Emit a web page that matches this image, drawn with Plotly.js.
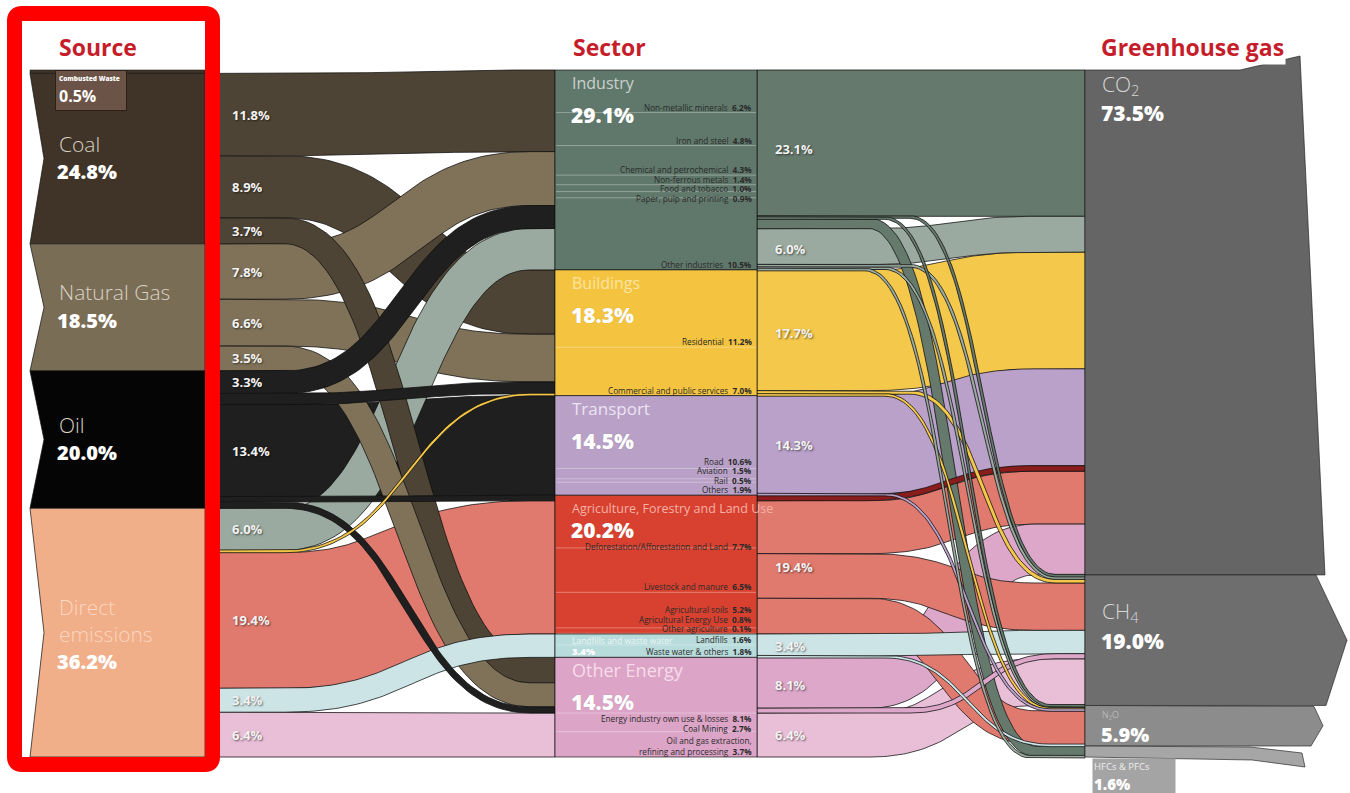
<!DOCTYPE html>
<html>
<head>
<meta charset="utf-8">
<script src="https://cdn.plot.ly/plotly-3.0.1.min.js"></script>
<style>
html,body{margin:0;padding:0;background:#ffffff;}
#chart{width:1350px;height:793px;}
</style>
</head>
<body>
<div id="chart"></div>
<script>
// ---------------- DATA ----------------
const headers = ["Source", "Sector", "Greenhouse gas"];

const sources = ["Combusted Waste", "Coal", "Natural Gas", "Oil", "Direct emissions"];
const sourceValues = [0.5, 24.8, 18.5, 20.0, 36.2];

const sectors = ["Industry", "Buildings", "Transport", "Agriculture, Forestry and Land Use", "Landfills and waste water", "Other Energy"];
const sectorValues = [29.1, 18.3, 14.5, 20.2, 3.4, 14.5];

const gases = ["CO2", "CH4", "N2O", "HFCs & PFCs"];
const gasValues = [73.5, 19.0, 5.9, 1.6];

// source -> sector flows
const linkSource = [1, 1, 1, 2, 2, 2, 3, 3, 3, 3, 3, 4, 4, 4, 4, 4];
const linkTarget = [0, 1, 5, 0, 1, 5, 0, 1, 2, 3, 5, 0, 1, 3, 4, 5];
const linkValue  = [11.8, 8.9, 3.7, 7.8, 6.6, 3.5, 3.3, 1.6, 13.4, 0.8, 0.9, 6.0, 0.3, 19.4, 3.4, 6.4];

// sector outgoing groups (right side of the sector column)
const outGroupSector = [0, 0, 1, 2, 3, 3, 4, 5, 5];
const outGroupValue  = [23.1, 6.0, 17.7, 14.3, 0.8, 19.4, 3.4, 8.1, 6.4];

// group -> gas flows
const flowGroup = [0, 0, 0, 0, 1, 1, 1, 1, 2, 2, 2, 3, 3, 4, 5, 5, 5, 6, 6, 7, 7, 8];
const flowGas   = [0, 1, 2, 3, 0, 1, 2, 3, 0, 1, 2, 0, 2, 0, 0, 1, 2, 1, 2, 0, 1, 1];
const flowValue = [21.3, 0.2, 0.1, 1.5, 5.2, 0.4, 0.3, 0.1, 17.0, 0.5, 0.2, 14.1, 0.2, 0.8, 7.7, 6.5, 5.2, 3.2, 0.2, 7.4, 0.7, 6.4];

// sector sub-categories
const subSector = [0, 0, 0, 0, 0, 0, 0, 1, 1, 2, 2, 2, 2, 3, 3, 3, 3, 3, 4, 4, 5, 5, 5];
const subNames = ["Non-metallic minerals", "Iron and steel", "Chemical and petrochemical", "Non-ferrous metals",
  "Food and tobacco", "Paper, pulp and printing", "Other industries",
  "Residential", "Commercial and public services",
  "Road", "Aviation", "Rail", "Others",
  "Deforestation/Afforestation and Land", "Livestock and manure", "Agricultural soils", "Agricultural Energy Use", "Other agriculture",
  "Landfills", "Waste water & others",
  "Energy industry own use & losses", "Coal Mining", "Oil and gas extraction,<br>refining and processing"];
const subValues = [6.2, 4.8, 4.3, 1.4, 1.0, 0.9, 10.5, 11.2, 7.0, 10.6, 1.5, 0.5, 1.9, 7.7, 6.5, 5.2, 0.8, 0.1, 1.6, 1.8, 8.1, 2.7, 3.7];

// ---------------- STYLE ----------------
const FONT = '"Open Sans", "DejaVu Sans", sans-serif';
const SHADOW = '1px 1px 2px rgba(0,0,0,0.55)';
const sourceColors = ['#3f3427', '#3f3427', '#7a6d55', '#050505', '#f0ae89'];
const sourceBandColors = ['#4e4435', '#4e4435', '#7f7259', '#1f1f1f', null];
const directBandColors = ['#9aaaa0', '#f2c548', '#b8a0c7', '#e07a6f', '#cde4e6', '#e9bfd8'];
const sectorColors = ['#60786b', '#f4c440', '#b8a0c7', '#d8412f', '#b8dbdb', '#dca4c7'];
const groupColors = ['#66796d', '#9aaaa0', '#f4c94b', '#b9a1c9', '#8a1c1c', '#e07a6f', '#cde4e6', '#dca7c9', '#e9bfd8'];
const gasColors = ['#656565', '#6e6e6e', '#8c8c8c', '#a6a6a6'];
const sectorNameColors = ['#c9d1cc', '#fbe3a0', '#ede3f3', '#f6b1a7', '#eaf6f6', '#f6dcea'];
const sectorNameSizes = [16, 16, 17, 12.5, 8.5, 18];

// ---------------- GEOMETRY ----------------
const W = 1350, H = 793;
const TOP = 70, BOT = 757;
const SRC_L = 30, SRC_R = 205, NOTCH = 14;
const SEC_L = 555, SEC_R = 757;
const GAS_L = 1085;
const MINW = 2.6;
const SUB_FONT = 8.2;

function spans(values) {
  const tot = values.reduce((a, b) => a + b, 0), k = (BOT - TOP) / tot;
  let y = TOP;
  return values.map(v => { const s = [y, y + v * k]; y += v * k; return s; });
}
const srcSpan = spans(sourceValues), secSpan = spans(sectorValues), gasSpan = spans(gasValues);

function fill(span, idx, vals) {
  const out = {};
  const tot = idx.reduce((a, i) => a + vals[i], 0);
  if (!tot) return out;
  const k = (span[1] - span[0]) / tot;
  let y = span[0];
  idx.forEach(i => { out[i] = [y, y + vals[i] * k]; y += vals[i] * k; });
  return out;
}
const range = n => [...Array(n).keys()];

// source -> sector positions
const linkSrcY = [], linkTgtY = [];
sources.forEach((_, s) => {
  const idx = range(linkValue.length).filter(i => linkSource[i] === s).sort((a, b) => linkTarget[a] - linkTarget[b]);
  Object.assign(linkSrcY, fill(srcSpan[s], idx, linkValue));
});
sectors.forEach((_, t) => {
  const idx = range(linkValue.length).filter(i => linkTarget[i] === t).sort((a, b) => linkSource[a] - linkSource[b]);
  Object.assign(linkTgtY, fill(secSpan[t], idx, linkValue));
});

// groups within sector
const groupSpan = [];
sectors.forEach((_, s) => {
  const idx = range(outGroupValue.length).filter(g => outGroupSector[g] === s);
  Object.assign(groupSpan, fill(secSpan[s], idx, outGroupValue));
});
const flowSrcY = [], flowTgtY = [];
outGroupValue.forEach((_, g) => {
  const idx = range(flowValue.length).filter(i => flowGroup[i] === g).sort((a, b) => flowGas[a] - flowGas[b]);
  Object.assign(flowSrcY, fill(groupSpan[g], idx, flowValue));
});
gases.forEach((_, gs) => {
  const idx = range(flowValue.length).filter(i => flowGas[i] === gs).sort((a, b) => flowGroup[a] - flowGroup[b]);
  Object.assign(flowTgtY, fill(gasSpan[gs], idx, flowValue));
});

function band(x0, cx0, cx1, x1, s0, s1) {
  const c0 = (s0[0] + s0[1]) / 2, c1 = (s1[0] + s1[1]) / 2;
  const w0 = Math.max(s0[1] - s0[0], MINW), w1 = Math.max(s1[1] - s1[0], MINW);
  const top = [[x0, c0 - w0 / 2]], bot = [[x0, c0 + w0 / 2]];
  const mx = (cx0 + cx1) / 2, N = 60;
  for (let j = 0; j <= N; j++) {
    const t = j / N, u = 1 - t;
    const px = u * u * u * cx0 + 3 * u * u * t * mx + 3 * u * t * t * mx + t * t * t * cx1;
    const py = u * u * u * c0 + 3 * u * u * t * c0 + 3 * u * t * t * c1 + t * t * t * c1;
    const dx = 3 * u * u * (mx - cx0) + 3 * t * t * (cx1 - mx);
    const dy = 6 * u * t * (c1 - c0);
    const len = Math.hypot(dx, dy) || 1;
    const nx = -dy / len, ny = dx / len;
    const sm = t * t * (3 - 2 * t);
    const w = w0 + (w1 - w0) * sm;
    top.push([px - nx * w / 2, py - ny * w / 2]);
    bot.push([px + nx * w / 2, py + ny * w / 2]);
  }
  top.push([x1, c1 - w1 / 2]); bot.push([x1, c1 + w1 / 2]);
  const pts = top.concat(bot.reverse());
  pts.push(pts[0]);
  return pts;
}

const traces = [];
function poly(pts, color, lineColor, lw) {
  traces.push({
    type: 'scatter', mode: 'lines', x: pts.map(p => p[0]), y: pts.map(p => p[1]),
    fill: 'toself', fillcolor: color, line: { color: lineColor, width: lw },
    hoverinfo: 'skip', showlegend: false
  });
}
function seg(x0, x1, y, color, lw) {
  traces.push({ type: 'scatter', mode: 'lines', x: [x0, x1], y: [y, y], line: { color: color, width: lw }, hoverinfo: 'skip', showlegend: false });
}

// source -> sector bands (large first, thin on top)
range(linkValue.length).sort((a, b) => linkValue[b] - linkValue[a]).forEach(i => {
  const s = linkSource[i], t = linkTarget[i];
  const col = s === 4 ? directBandColors[t] : sourceBandColors[s];
  poly(band(SRC_R, 285, 530, SEC_L, linkSrcY[i], linkTgtY[i]), col, 'rgba(15,15,15,0.85)', 0.9);
});

// sector -> gas bands (thin pipes bend at slightly different places)
range(flowValue.length).sort((a, b) => flowValue[b] - flowValue[a]).forEach(i => {
  const shift = flowValue[i] < 1 ? (flowGas[i] === 1 ? 40 : flowGas[i] === 2 ? 15 : -5) : 0;
  poly(band(SEC_R, 870 + shift, 1035 + Math.min(shift, 20), GAS_L, flowSrcY[i], flowTgtY[i]), groupColors[flowGroup[i]], 'rgba(15,15,15,0.85)', 0.9);
});

// source nodes (chevrons)
sources.forEach((_, s) => {
  const [a, b] = srcSpan[s];
  if (s === 0) {
    poly([[SRC_L, a], [SRC_R, a], [SRC_R, b], [SRC_L, b], [SRC_L, a]], sourceColors[s], 'rgba(20,20,20,0.9)', 0.6);
  } else {
    poly([[SRC_L, a], [SRC_R, a], [SRC_R, b], [SRC_L, b], [SRC_L + NOTCH, (a + b) / 2], [SRC_L, a]], sourceColors[s], 'rgba(20,20,20,0.9)', 0.8);
  }
});

// sector blocks
sectors.forEach((_, s) => {
  const [a, b] = secSpan[s];
  poly([[SEC_L, a], [SEC_R, a], [SEC_R, b], [SEC_L, b], [SEC_L, a]], sectorColors[s], 'rgba(20,20,20,0.85)', 0.8);
});

// gas blocks
gases.forEach((_, g) => {
  const [a, b] = gasSpan[g], m = (a + b) / 2;
  let pts;
  if (g === 0) pts = [[GAS_L, a], [1240, a], [1300, a - 14], [1325, b], [GAS_L, b]];
  else if (g === 1) pts = [[GAS_L, a], [1316, a], [1347, m], [1326, b], [GAS_L, b]];
  else if (g === 2) pts = [[GAS_L, a], [1314, a + 1], [1323, m], [1311, b], [GAS_L, b]];
  else pts = [[GAS_L, a], [1250, a + 1], [1302, a + 7], [1305, b + 10], [1252, b + 3], [GAS_L, b]];
  pts.push(pts[0]);
  poly(pts, gasColors[g], 'rgba(30,30,30,0.8)', 0.8);
});

// ---------------- ANNOTATIONS ----------------
const A = [];
function txt(x, y, text, size, color, weight, opts) {
  opts = opts || {};
  const font = { family: FONT, size: size, color: color, weight: weight };
  if (opts.shadow) font.shadow = opts.shadow;
  const a = { x: x, y: y, xref: 'x', yref: 'y', text: text, showarrow: false, xanchor: 'left', yanchor: 'middle', align: 'left', font: font };
  ['xanchor', 'yanchor', 'align', 'bgcolor', 'bordercolor', 'borderwidth', 'borderpad', 'width', 'height'].forEach(k => { if (opts[k] !== undefined) a[k] = opts[k]; });
  A.push(a);
}
const pct = v => v.toFixed(1) + '%';

// headers
txt(57, 47, headers[0], 23, '#c61d2b', 700);
txt(571, 47, headers[1], 23, '#c61d2b', 700);
txt(1099, 47, headers[2], 23, '#c61d2b', 700, { bgcolor: '#ffffff' });

// sector value offsets from block top
const valueOffset = s => (s === 3 ? 35 : 45);

// sub-category lines and labels
sectors.forEach((_, s) => {
  const idx = range(subValues.length).filter(i => subSector[i] === s);
  const [a, b] = secSpan[s];
  const tot = idx.reduce((q, i) => q + subValues[i], 0), k = (b - a) / tot;
  let y = a; const bottoms = [];
  idx.forEach(i => { y += subValues[i] * k; bottoms.push(y); });
  bottoms.forEach((yy, j) => { if (j < bottoms.length - 1) seg(SEC_L + 1, SEC_R - 1, yy, 'rgba(255,255,255,0.32)', 1); });
  const h = idx.map(i => subNames[i].indexOf('<br>') >= 0 ? 19 : 9.4);
  const pos = bottoms.slice();
  // keep a long first label clear of the big percentage on the left
  const firstLen = (subNames[idx[0]] + '  ' + pct(subValues[idx[0]])).length * SUB_FONT * 0.52;
  if (s !== 4 && SEC_R - 4 - firstLen < 620) pos[0] = Math.max(pos[0], a + valueOffset(s) + 22);
  for (let j = 1; j < pos.length; j++) pos[j] = Math.max(pos[j], pos[j - 1] + h[j]);
  let lim = b;
  for (let j = pos.length - 1; j >= 0; j--) { pos[j] = Math.min(pos[j], lim); lim = pos[j] - h[j]; }
  idx.forEach((i, j) => {
    txt(SEC_R - 4, pos[j] + 1, subNames[i] + '  <b>' + pct(subValues[i]) + '</b>', SUB_FONT, '#2a2a2a', 400,
      { xanchor: 'right', yanchor: 'bottom', align: 'right', borderpad: 0 });
  });
});

// source labels
sources.forEach((name, s) => {
  if (s === 0) return;
  const [a, b] = srcSpan[s], c = (a + b) / 2;
  const two = name.length > 12;
  const nameCol = s === 4 ? '#fbd6c0' : '#d8d1c4';
  txt(57, two ? c - 12 : c - 15, two ? name.replace(' ', '<br>') : name, 21, nameCol, 300);
  txt(55, two ? c + 29 : c + 13, pct(sourceValues[s]), 20, '#ffffff', 800);
});
// combusted waste box
txt(55, 70, '<span style="font-size:6.5px">' + sources[0] + '</span><br><b>' + pct(sourceValues[0]) + '</b>', 16, '#ffffff', 800,
  { xanchor: 'left', yanchor: 'top', bgcolor: '#6c5347', bordercolor: '#2b2118', borderwidth: 1, borderpad: 3, width: 64 });

// source->sector link labels
linkValue.forEach((v, i) => {
  if (v >= 3) { const [a, b] = linkSrcY[i]; txt(SRC_R + 25, (a + b) / 2, pct(v), 13, '#f3f3f3', 700, { shadow: SHADOW }); }
});

// sector labels
sectors.forEach((name, s) => {
  const [a, b] = secSpan[s];
  if (s === 4) {
    txt(571, a + 6, name, sectorNameSizes[s], sectorNameColors[s], 400, { borderpad: 0 });
    txt(571, a + 17, pct(sectorValues[s]), 9.5, '#ffffff', 800, { borderpad: 0 });
    return;
  }
  txt(570, a + 13, name, sectorNameSizes[s], sectorNameColors[s], 400);
  txt(569, a + valueOffset(s), pct(sectorValues[s]), 21, '#ffffff', 800, { shadow: '0px 0px 1px rgba(0,0,0,0.2)' });
});

// sector-out group labels
outGroupValue.forEach((v, g) => {
  if (v >= 3) { const [a, b] = groupSpan[g]; txt(SEC_R + 16, (a + b) / 2, pct(v), 13, '#f3f3f3', 700, { shadow: SHADOW }); }
});

// gas labels
const gasName = n => n.replace(/(\d)/g, '<sub>$1</sub>');
{
  const [a0] = gasSpan[0];
  txt(1100, a0 + 15, gasName(gases[0]), 21, '#d6d6d6', 300);
  txt(1099, a0 + 43, pct(gasValues[0]), 21, '#ffffff', 800);
  const c1 = (gasSpan[1][0] + gasSpan[1][1]) / 2;
  txt(1100, c1 - 28, gasName(gases[1]), 21, '#d6d6d6', 300);
  txt(1099, c1 + 1, pct(gasValues[1]), 21, '#ffffff', 800);
  const c2 = (gasSpan[2][0] + gasSpan[2][1]) / 2;
  txt(1100, c2 - 11, gasName(gases[2]), 9, '#d0d0d0', 300);
  txt(1099, c2 + 9, pct(gasValues[2]), 20, '#ffffff', 800);
  txt(1092, gasSpan[3][1] + 1, '<span style="font-size:9.5px;font-weight:400;color:#eeeeee">' + gases[3] + '</span><br>' + pct(gasValues[3]), 15, '#ffffff', 800,
    { xanchor: 'left', yanchor: 'top', bgcolor: '#a4a4a4', borderpad: 1, width: 80 });
}

const layout = {
  width: W, height: H,
  margin: { l: 0, r: 0, t: 0, b: 0 },
  paper_bgcolor: '#ffffff', plot_bgcolor: '#ffffff',
  xaxis: { range: [0, W], visible: false, fixedrange: true },
  yaxis: { range: [H, 0], visible: false, fixedrange: true },
  showlegend: false, hovermode: false,
  annotations: A,
  shapes: [{
    type: 'path', xref: 'x', yref: 'y', layer: 'above',
    path: 'M 22,13.5 H 205 Q 212.5,13.5 212.5,21 V 757 Q 212.5,764.5 205,764.5 H 22 Q 14.5,764.5 14.5,757 V 21 Q 14.5,13.5 22,13.5 Z',
    line: { color: '#ff0000', width: 15 }, fillcolor: 'rgba(0,0,0,0)'
  }]
};

Plotly.newPlot('chart', traces, layout, { staticPlot: true, displayModeBar: false });
</script>
</body>
</html>
